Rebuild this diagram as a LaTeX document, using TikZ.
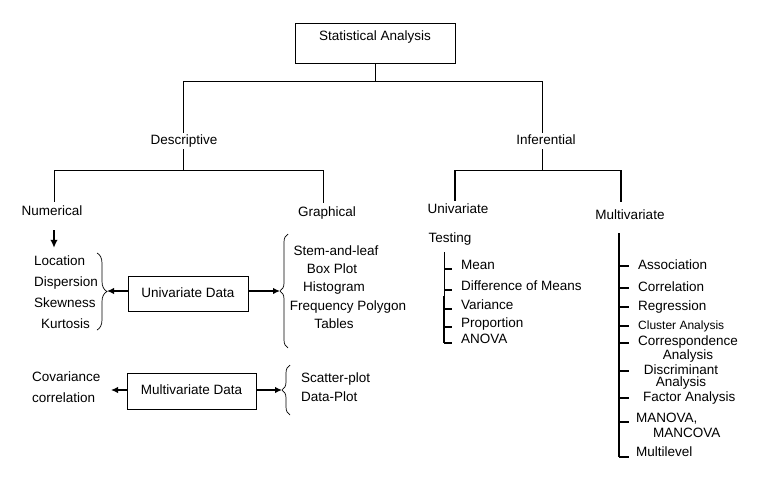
\documentclass[tikz,border=0pt]{standalone}
\usepackage{fontspec}
\setmainfont{Liberation Sans}
\usetikzlibrary{arrows.meta,decorations.pathreplacing}
\begin{document}
\begin{tikzpicture}[x=1pt,y=-1pt,
  txt/.style={font=\fontsize{13.5}{15}\selectfont, inner sep=1pt, text height=9.5pt, text depth=2.5pt},
  lbl/.style={txt, anchor=west},
  smalllbl/.style={font=\fontsize{12}{14}\selectfont, inner sep=1pt, text height=8.5pt, text depth=2.2pt, anchor=west},
  multi/.style={font=\fontsize{13.5}{#1}\selectfont, inner sep=1pt},
  conn/.style={line width=0.9pt},
  thickline/.style={line width=1.7pt},
  tick/.style={line width=1.1pt},
  bigarrow/.style={line width=1.8pt, -{Latex[length=7pt,width=6.5pt]}},
  brc/.style={decorate, decoration={brace, amplitude=#1}, line width=0.7pt},
  databox/.style={draw, line width=0.9pt, txt, inner sep=0pt}
]
\useasboundingbox (0,0) rectangle (768,487);

% top
\node[draw, conn, font=\fontsize{13.5}{15}\selectfont, inner sep=4pt, text height=14pt, text depth=18pt, minimum width=160pt] (sa) at (375,43) {Statistical Analysis};
\coordinate (j0) at (375,81);
\coordinate (dtop) at (183,81);
\coordinate (itop) at (542,81);
\coordinate (dbot) at (183,170);
\coordinate (ibot) at (542,170);
\draw[conn] (sa.south) -- (j0);
\draw[conn] (dtop) -- (itop);
\draw[conn] (dtop) -- (dbot);
\draw[conn] (itop) -- (ibot);
\node[txt, fill=white, inner sep=2pt] (desc) at (184,141) {Descriptive};
\node[txt, fill=white, inner sep=2pt] (inf) at (546,141) {Inferential};

% descriptive
\coordinate (dl) at (54,170);
\coordinate (dr) at (323,170);
\draw[conn] (dl) -- (dr);
\node[txt] (num) at (52,212) {Numerical};
\node[txt] (graph) at (327,213) {Graphical};
\draw[conn, shorten >=3pt] (dl) -- (dl |- num.north);
\draw[conn, shorten >=3pt] (dr) -- (dr |- graph.north);

\node[lbl] (loc) at (33,262) {Location};
\node[lbl] (disp) at (33,283) {Dispersion};
\node[lbl] (skew) at (33,304) {Skewness};
\node[lbl] (kurt) at (40,325) {Kurtosis};
\draw[line width=2pt, -{Latex[length=8pt,width=7.5pt]}, shorten <=11pt, shorten >=7pt] (dl |- num.south) -- (dl |- loc.north);

\coordinate (lbt) at (97,253);
\coordinate (lbb) at (97,330);
\coordinate (ltip) at (107,291);
\draw[brc=10pt] (lbt) -- (lbb);

\node[databox, minimum width=120pt, minimum height=35pt] (uvd) at (188,293.5) {Univariate Data};
\coordinate (rtip) at (280,291);
\draw[bigarrow] (uvd.west |- ltip) -- (ltip);
\draw[bigarrow] (uvd.east |- rtip) -- (rtip);

\coordinate (gbb) at (288,348);
\coordinate (gbt) at (288,234);
\draw[brc=8pt] (gbb) -- (gbt);

\node[txt] (stem) at (336,252) {Stem-and-leaf};
\node[txt] (boxp) at (332,270) {Box Plot};
\node[txt] (hist) at (334,288) {Histogram};
\node[txt] (freq) at (348,307) {Frequency Polygon};
\node[txt] (tabl) at (334,325) {Tables};

% multivariate data
\node[databox, minimum width=129pt, minimum height=36pt] (mvd) at (191.5,391) {Multivariate Data};
\coordinate (mltip) at (111,390);
\coordinate (mrtip) at (282,390);
\draw[bigarrow, line width=1.4pt] (mvd.west |- mltip) -- (mltip);
\draw[bigarrow, line width=1.4pt] (mvd.east |- mrtip) -- (mrtip);
\coordinate (mbb) at (290,415);
\coordinate (mbt) at (290,365);
\draw[brc=8pt] (mbb) -- (mbt);
\node[lbl] (cov) at (31,378) {Covariance};
\node[lbl] (corr) at (31,399) {correlation};
\node[lbl] (scat) at (300,379) {Scatter-plot};
\node[lbl] (dplot) at (300,398) {Data-Plot};

% inferential
\coordinate (il) at (455,170);
\coordinate (ir) at (621,170);
\draw[conn] (il) -- (ir);
\node[txt] (uni) at (458,210) {Univariate};
\node[txt] (mv) at (630,216) {Multivariate};
\draw[thickline, shorten >=2pt] (il) -- (il |- uni.north);
\draw[thickline, shorten >=7pt] (ir) -- (ir |- mv.north);

% univariate testing
\node[txt] (test) at (450,239) {Testing};
\node[lbl] (mean) at (460,266) {Mean};
\node[lbl] (diff) at (460,287) {Difference of Means};
\node[lbl] (var) at (460,306) {Variance};
\node[lbl] (prop) at (460,324) {Proportion};
\node[lbl] (anova) at (460,340) {ANOVA};
\coordinate (ts) at (444,252);
\coordinate (tm) at (444,296);
\coordinate (tb) at (444,343);
\draw[conn] (ts) -- (tm);
\draw[thickline] (tm) -- (tb);
\foreach \n in {mean,diff,var,prop,anova}
  \draw[tick] (ts |- \n.west) ++(0,3) -- ++(8,0);

% multivariate methods
\node[lbl] (assoc) at (637,266) {Association};
\node[lbl] (correl) at (637,288) {Correlation};
\node[lbl] (regr) at (637,307) {Regression};
\node[smalllbl] (clust) at (637,326) {Cluster Analysis};
\node[multi=12pt, align=center, anchor=north] (corresp) at (688,335) {Correspondence\\Analysis};
\node[multi=12pt, align=center, anchor=north] (discr) at (681,364) {Discriminant\\Analysis};
\node[lbl] (factor) at (642,398) {Factor Analysis};
\node[multi=15pt, align=left, anchor=north west] (manova) at (635,412) {MANOVA,\\\hspace*{17pt}MANCOVA};
\node[lbl] (mlev) at (635,453) {Multilevel};
\coordinate (mst) at (619,233);
\coordinate (msb) at (619,457);
\draw[thickline] (mst) -- (msb);
\foreach \n in {assoc,correl,regr,clust,factor}
  \draw[tick] (mst |- \n.west) -- ++(10,0);
\draw[tick] (mst |- corresp.north) ++(0,8) -- ++(10,0);
\draw[tick] (mst |- discr.north) ++(0,7) -- ++(10,0);
\draw[tick] (mst |- manova.north) ++(0,10) -- ++(10,0);
\draw[tick] (msb) -- ++(10,0);
\end{tikzpicture}
\end{document}
